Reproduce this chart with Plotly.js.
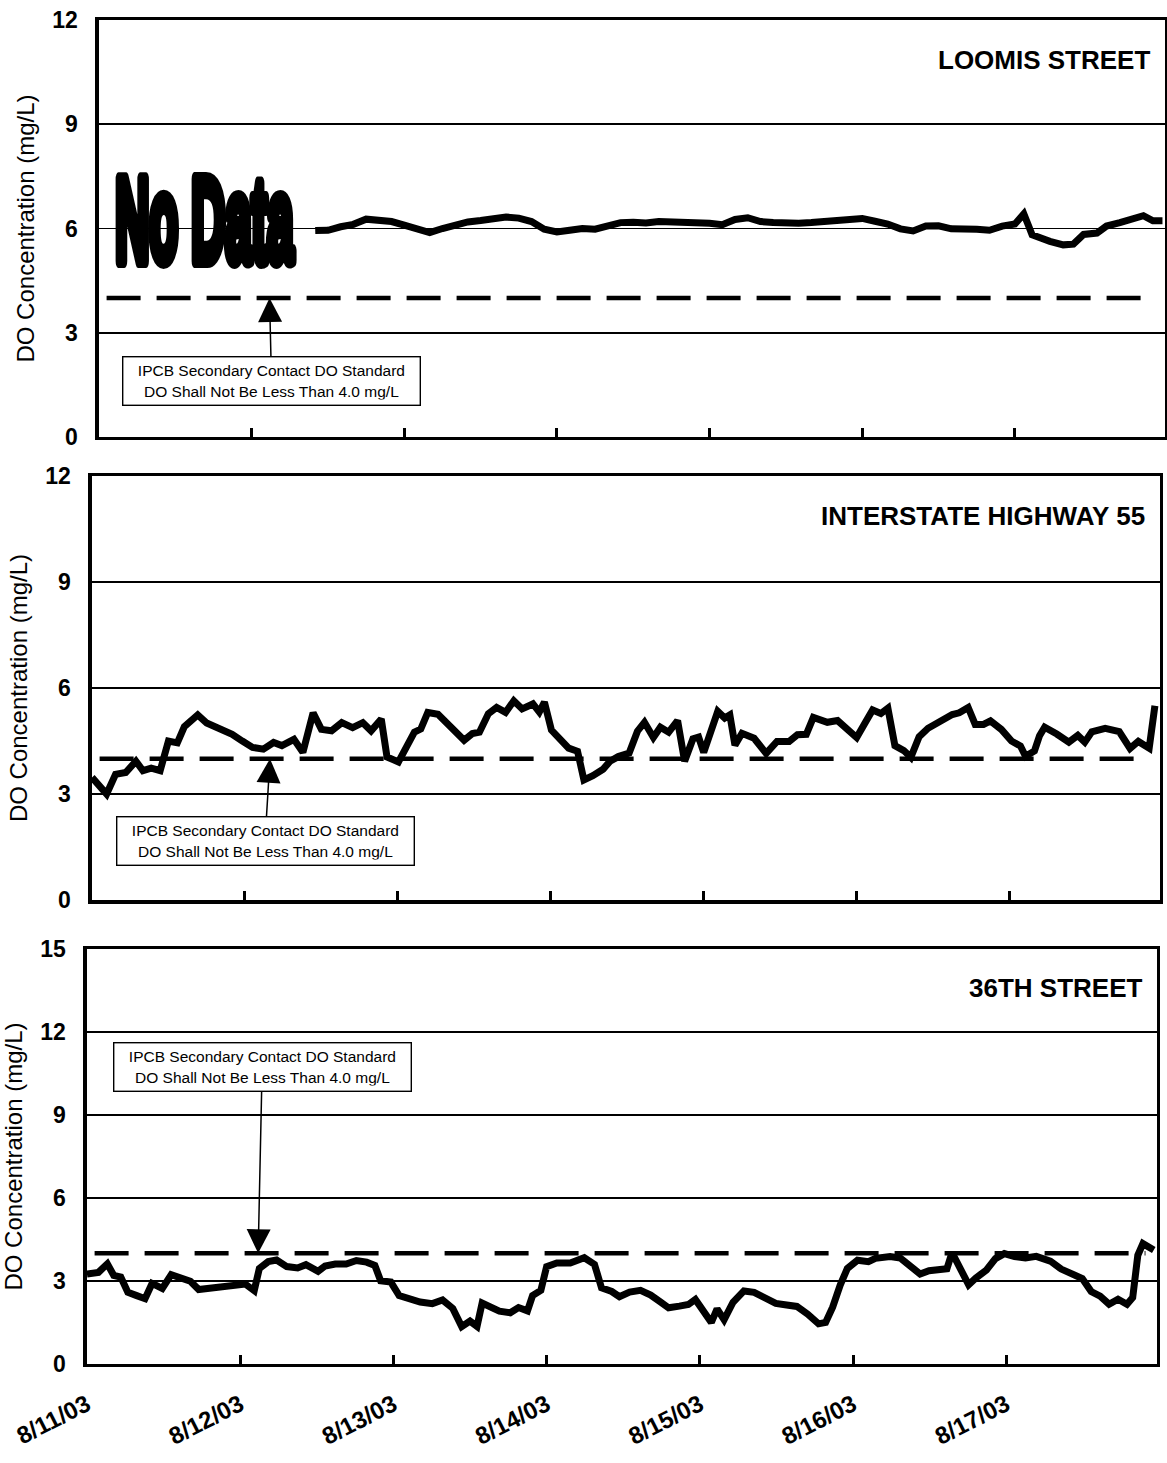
<!DOCTYPE html>
<html>
<head>
<meta charset="utf-8">
<script src="https://cdn.plot.ly/plotly-3.0.1.min.js"></script>
<style>
  html, body { margin: 0; padding: 0; background: #fff; }
  #chart { width: 1167px; height: 1463px; }
</style>
</head>
<body>
<div id="chart"></div>
<script>
// Continuous dissolved-oxygen records, 8/11/03 - 8/17/03.
// Times are hours after 8/11/03 00:00; values are DO in mg/L.

const stations = ['LOOMIS STREET', 'INTERSTATE HIGHWAY 55', '36TH STREET'];
const dayLabels = ['8/11/03', '8/12/03', '8/13/03', '8/14/03', '8/15/03', '8/16/03', '8/17/03'];
const doStandard = 4.0;   // IPCB secondary contact standard, mg/L

const loomisHours = [34, 36, 38, 40, 42, 44, 46, 48, 50, 52, 54, 56, 58, 60, 62, 64, 66, 68, 70, 72,
  74, 76, 78, 80, 82, 84, 86, 88, 90, 92, 94, 96, 98, 100, 102, 104, 106, 108, 110, 112,
  114, 116, 118, 120, 122, 124, 126, 128, 130, 132, 134, 136, 138, 140, 142, 144, 145.4, 146.1,
  146.7, 149.5, 151.6, 153.2, 154.8, 156.9, 158.4, 160.5, 162.6, 164.2, 165.7, 167.2];
const loomisDO = [5.94, 5.95, 6.05, 6.12, 6.27, 6.24, 6.2, 6.1, 6.0, 5.88, 6.0, 6.1, 6.19, 6.23, 6.28, 6.33, 6.3, 6.2, 5.98, 5.9,
  5.95, 6.0, 5.98, 6.08, 6.17, 6.18, 6.16, 6.2, 6.2, 6.17, 6.16, 6.15, 6.11, 6.26, 6.31, 6.2, 6.17, 6.15, 6.15, 6.17,
  6.19, 6.22, 6.25, 6.29, 6.21, 6.13, 5.99, 5.93, 6.07, 6.08, 5.99, 6.0, 5.98, 5.95, 6.07, 6.13, 6.42, 6.1,
  5.82, 5.63, 5.53, 5.55, 5.83, 5.87, 6.07, 6.17, 6.27, 6.37, 6.22, 6.22];

const i55Hours = [0, 2.3, 3.7, 5.3, 6.9, 8.0, 9.3, 10.7, 12.0, 13.4, 14.5, 15.5, 16.6, 18.0, 19.3, 20.7, 22.0, 23.6,
  25.2, 26.9, 28.5, 29.8, 31.7, 33.1, 34.7, 36.0, 37.6, 39.2, 40.9, 42.5, 43.8, 45.4, 46.3, 48.1, 49.5, 50.6,
  51.6, 52.7, 54.3, 55.9, 57.0, 58.4, 59.7, 60.8, 62.2, 63.5, 64.9, 66.2, 67.5, 69.2, 70.2, 71.0, 72.1, 73.5,
  74.8, 76.2, 77.2, 78.6, 80.2, 81.3, 82.6, 84.3, 85.6, 86.7, 88.1, 89.2, 90.5, 91.9, 93.0, 94.3, 95.2, 96.0,
  97.1, 98.2, 99.3, 100.1, 100.9, 102.0, 103.9, 105.8, 107.5, 109.4, 110.7, 112.1, 113.2, 115.4, 117.0, 118.6,
  120.0, 121.4, 122.5, 123.8, 124.9, 126.0, 127.4, 128.5, 129.8, 131.2, 132.6, 133.9, 135.0, 136.1, 137.5,
  138.6, 139.9, 141.0, 142.7, 144.3, 145.7, 146.5, 147.9, 148.7, 149.5, 151.4, 153.3, 154.7, 155.8, 156.9,
  159.0, 161.2, 162.9, 164.2, 165.9, 166.8];
const i55DO = [3.47, 3.0, 3.56, 3.61, 3.93, 3.66, 3.73, 3.66, 4.5, 4.45, 4.91, 5.06, 5.24, 5.01, 4.92, 4.8, 4.69, 4.5,
  4.32, 4.27, 4.46, 4.37, 4.55, 4.18, 5.3, 4.83, 4.79, 5.02, 4.88, 5.02, 4.79, 5.12, 4.05, 3.91, 4.33, 4.75,
  4.84, 5.31, 5.26, 4.98, 4.8, 4.52, 4.71, 4.75, 5.27, 5.45, 5.31, 5.64, 5.41, 5.55, 5.32, 5.6, 4.81, 4.53,
  4.3, 4.21, 3.4, 3.52, 3.7, 3.93, 4.06, 4.16, 4.78, 5.03, 4.6, 4.89, 4.75, 5.08, 3.93, 4.56, 4.61, 4.18,
  4.71, 5.34, 5.15, 5.24, 4.38, 4.72, 4.58, 4.15, 4.49, 4.49, 4.68, 4.69, 5.17, 5.03, 5.08, 4.84,
  4.6, 5.04, 5.38, 5.28, 5.43, 4.37, 4.23, 4.04, 4.62, 4.86, 5.01, 5.11, 5.25, 5.3, 5.45,
  4.97, 4.97, 5.07, 4.83, 4.5, 4.36, 4.07, 4.22, 4.65, 4.89, 4.7, 4.47, 4.66, 4.47, 4.76,
  4.86, 4.77, 4.29, 4.49, 4.3, 5.5];

const st36Hours = [0, 1.8, 3.2, 4.2, 5.3, 6.4, 7.8, 9.1, 10.2, 11.8, 13.2, 14.5, 16.2, 17.5, 19.4, 21.6, 23.7, 24.8,
  26.2, 27.0, 28.4, 29.7, 31.3, 33.0, 34.3, 36.2, 37.3, 38.9, 40.6, 42.2, 43.8, 45.1, 46.0, 47.6, 48.9, 50.3,
  52.2, 54.1, 55.7, 57.3, 58.7, 60.0, 61.1, 61.9, 63.3, 64.6, 66.3, 67.6, 69.0, 69.8, 71.1, 72.0, 73.6, 75.7,
  77.9, 79.5, 80.6, 82.2, 83.4, 85.0, 86.7, 88.3, 89.7, 91.1, 92.8, 94.2, 95.3, 96.4, 97.8, 98.7, 99.8, 101.2,
  102.9, 104.5, 106.2, 107.9, 109.6, 111.2, 112.9, 114.6, 115.7, 116.8, 118.0, 119.1, 120.7, 122.4, 123.5,
  125.8, 127.4, 129.1, 130.5, 131.9, 133.6, 134.7, 135.5, 136.7, 138.1, 139.2, 140.9, 142.3, 143.7, 145.3,
  147.0, 148.7, 150.9, 152.6, 154.0, 155.9, 157.3, 158.7, 160.1, 161.5, 162.9, 163.8, 164.6, 165.4, 167.1];
const st36DO = [3.25, 3.31, 3.62, 3.2, 3.14, 2.59, 2.47, 2.36, 2.91, 2.73, 3.23, 3.11, 2.99, 2.69, 2.75, 2.76, 2.83, 2.89,
  2.65, 3.45, 3.7, 3.76, 3.52, 3.47, 3.59, 3.35, 3.54, 3.61, 3.61, 3.74, 3.68, 3.56, 3.01, 2.96, 2.47, 2.35,
  2.24, 2.18, 2.31, 2.01, 1.35, 1.55, 1.36, 2.2, 2.02, 1.91, 1.85, 2.04, 1.92, 2.47, 2.66, 3.52, 3.65, 3.65,
  3.84, 3.6, 2.75, 2.62, 2.43, 2.6, 2.66, 2.49, 2.26, 2.03, 2.09, 2.15, 2.33, 1.98, 1.5, 1.99, 1.6, 2.23,
  2.64, 2.59, 2.36, 2.19, 2.13, 2.08, 1.8, 1.45, 1.5, 2.05, 2.86, 3.45, 3.75, 3.7, 3.82,
  3.88, 3.83, 3.54, 3.25, 3.37, 3.38, 3.44, 4.03, 3.44, 2.86, 3.1, 3.4, 3.81, 3.99, 3.88,
  3.83, 3.89, 3.72, 3.43, 3.26, 3.09, 2.62, 2.45, 2.16, 2.34, 2.16, 2.4, 3.93, 4.35, 4.12];

// hours after 8/11/03 00:00 -> Plotly date string
function toDate(h) {
  const d = new Date(Date.UTC(2003, 7, 11) + Math.round(h * 60) * 60000);
  return d.toISOString().slice(0, 16).replace('T', ' ');
}

const tStart = toDate(0);
const tEnd = toDate(167.6);
const FONT = 'Liberation Sans, Arial, Helvetica, sans-serif';

const series = [
  { hours: loomisHours, values: loomisDO },
  { hours: i55Hours, values: i55DO },
  { hours: st36Hours, values: st36DO }
];

const traces = [];
series.forEach((s, i) => {
  const ax = i === 0 ? '' : String(i + 1);
  traces.push({
    type: 'scatter', mode: 'lines',
    x: s.hours.map(toDate), y: s.values,
    xaxis: 'x' + ax, yaxis: 'y' + ax,
    line: { color: '#000', width: 7 },
    hoverinfo: 'skip', showlegend: false
  });
  traces.push({
    type: 'scatter', mode: 'lines',
    x: [toDate(1.2), toDate(165.8)], y: [doStandard, doStandard],
    xaxis: 'x' + ax, yaxis: 'y' + ax,
    line: { color: '#000', width: 4.5, dash: '34px,16px' },
    hoverinfo: 'skip', showlegend: false
  });
});

// panel geometry (paper fractions)
const xDomains = [[0.0848, 0.9983], [0.0788, 0.9940], [0.0745, 0.9914]];
const yDomains = [[0.7013, 0.9863], [0.3848, 0.6746], [0.0677, 0.3513]];
const yMax = [12, 12, 15];

const layout = {
  width: 1167, height: 1463,
  margin: { l: 0, r: 0, t: 0, b: 0 },
  paper_bgcolor: '#fff', plot_bgcolor: '#fff',
  showlegend: false,
  font: { family: FONT, color: '#000' },
  annotations: []
};

for (let i = 0; i < 3; i++) {
  const ax = i === 0 ? '' : String(i + 1);
  layout['xaxis' + ax] = {
    type: 'date', domain: xDomains[i], anchor: 'y' + ax,
    range: [tStart, tEnd],
    tickmode: 'array',
    tickvals: dayLabels.map((_, k) => toDate(24 * k)),
    ticktext: dayLabels,
    ticks: 'inside', ticklen: 9, tickwidth: 3, tickcolor: '#000',
    showgrid: false, zeroline: false,
    showline: true, mirror: true, linewidth: 3.5, linecolor: '#000',
    showticklabels: i === 2,
    tickangle: -27,
    ticklabelstandoff: 14,
    tickfont: { family: FONT, size: 24, weight: 'bold', color: '#000' },
    fixedrange: true
  };
  layout['yaxis' + ax] = {
    domain: yDomains[i], anchor: 'x' + ax,
    range: [0, yMax[i]], tick0: 0, dtick: 3,
    ticks: '', showgrid: true, gridcolor: '#000', gridwidth: 1.6,
    zeroline: false,
    showline: true, mirror: true, linewidth: 3.5, linecolor: '#000',
    tickfont: { family: FONT, size: 23, weight: 'bold', color: '#000' },
    ticklabelstandoff: 13,
    title: { text: 'DO Concentration (mg/L)', font: { family: FONT, size: 24, color: '#000' }, standoff: 12 },
    fixedrange: true
  };
  // station name, top right inside the panel
  layout.annotations.push({
    xref: 'x' + ax + ' domain', yref: 'y' + ax + ' domain',
    x: 0.988, y: 0.905, xanchor: 'right', yanchor: 'middle',
    text: stations[i], showarrow: false,
    font: { family: FONT, size: 26, weight: 'bold', color: '#000' }
  });
}

// note boxes with arrows pointing to the standard line
const noteText = 'IPCB Secondary Contact DO Standard<br>DO Shall Not Be Less Than ' + doStandard.toFixed(1) + ' mg/L';
const notes = [
  { ax: '', x: 0.16, dx: 2, dy: 83 },
  { ax: '2', x: 0.1667, dx: -5, dy: 82 },
  { ax: '3', x: 0.16, dx: 4, dy: -186 }
];
notes.forEach(n => {
  layout.annotations.push({
    xref: 'x' + n.ax + ' domain', yref: 'y' + n.ax,
    x: n.x, y: doStandard,
    text: noteText, align: 'center',
    font: { family: FONT, size: 15.5, color: '#000' },
    bgcolor: '#fff', bordercolor: '#000', borderwidth: 1.4, borderpad: 5,
    width: 286,
    showarrow: true, arrowhead: 2, arrowsize: 3.2, arrowwidth: 1.5, arrowcolor: '#000',
    axref: 'pixel', ayref: 'pixel', ax: n.dx, ay: n.dy
  });
});

// gap marker at the start of the Loomis Street record
layout.annotations.push({
  xref: 'x domain', yref: 'y domain',
  x: 0.0994, y: 0.52, xanchor: 'center', yanchor: 'middle',
  text: 'No Data', showarrow: false,
  font: { family: FONT, size: 118, weight: 'bold', color: '#000' }
});

Plotly.newPlot('chart', traces, layout, { staticPlot: true, displayModeBar: false }).then(() => {
  // compress the "No Data" lettering into a heavy condensed face
  document.querySelectorAll('text.annotation-text').forEach(t => {
    if (t.textContent === 'No Data') {
      t.style.transformBox = 'fill-box';
      t.style.transformOrigin = 'center';
      t.style.transform = 'scaleX(0.4)';
      t.style.stroke = '#000';
      t.style.strokeWidth = '14px';
      t.style.strokeLinejoin = 'round';
    }
  });
});
</script>
</body>
</html>
